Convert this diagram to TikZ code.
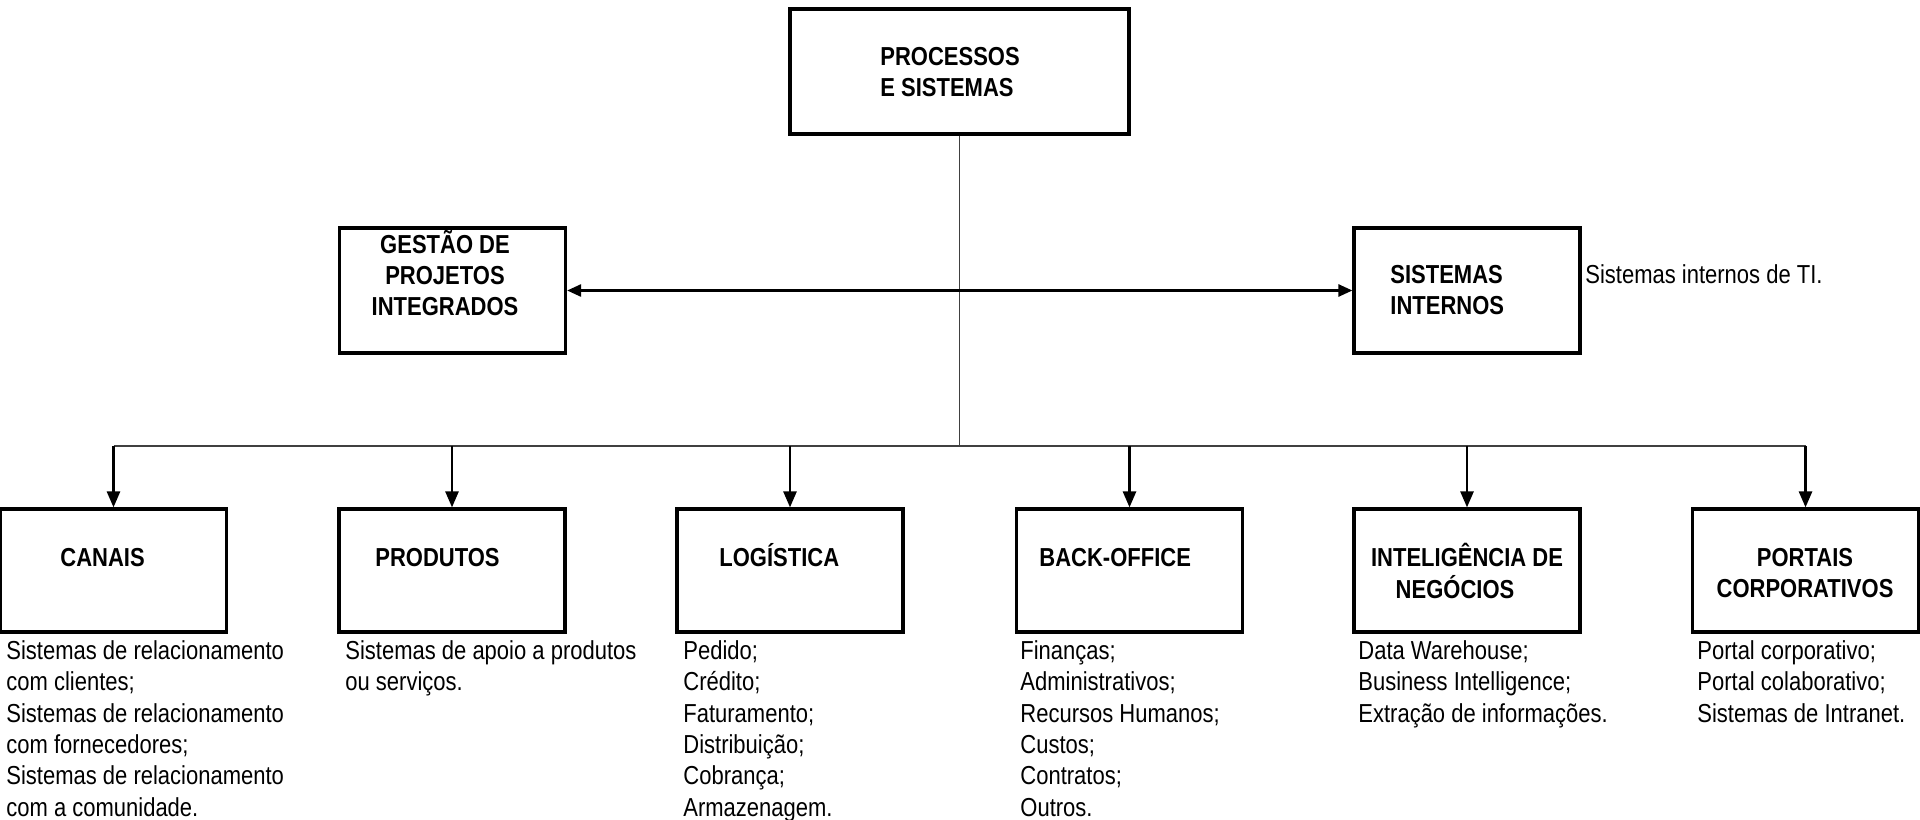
\documentclass[tikz,border=0pt]{standalone}
\usepackage{fontspec}
% narrow sans: Liberation Sans, horizontally condensed
\setmainfont{Liberation Sans}[FakeStretch=0.846]
\usetikzlibrary{arrows.meta}
% stacked lines whose baseline is the first line
\newcommand\leftlines[1]{\begin{tabular}[t]{@{}l@{}}#1\end{tabular}}
\newcommand\midlines[1]{\begin{tabular}[t]{@{}c@{}}#1\end{tabular}}

\begin{document}
\begin{tikzpicture}[x=0.5pt,y=-0.5pt,
  box/.style={draw,line width=1.6pt,rectangle,inner sep=0pt,
    minimum width=113pt,minimum height=61.5pt},
  head/.style={inner sep=0pt,font=\fontsize{13}{15.6}\selectfont\bfseries},
  desc/.style={inner sep=0pt,anchor=base west,font=\fontsize{13}{15.65}\selectfont},
  feed/.style={draw=black!75,line width=0.6pt},
  arr/.style={line width=1.3pt,-{Triangle[length=8pt,width=6.5pt]}},
  arrboth/.style={line width=1.3pt,
    {Triangle[length=7pt,width=6pt]}-{Triangle[length=7pt,width=6pt]}}
]
\useasboundingbox (0,0) rectangle (1920,819);

% root
\node[box,minimum width=169.5pt,minimum height=62.5pt] (top) at (959.5,71.5) {};
\node[head,anchor=base west] (topT) at (880,65) {\leftlines{PROCESSOS\\E SISTEMAS}};

% middle level
\node[box,minimum height=62.5pt] (gestao) at (452.5,290.5) {};
\node[head,anchor=base] (gestaoT) at (445,253.5)
  {\midlines{GESTÃO DE\\PROJETOS\\INTEGRADOS}};

\node[box,minimum height=62.5pt] (sist) at (1467,290.5) {};
\node[head,anchor=base west] (sistT) at (1390,283.5) {\leftlines{SISTEMAS\\INTERNOS}};
\node[desc] (sistD) at (1585,283.5) {Sistemas internos de TI.};

% bottom level
\node[box] (canais)   at (113.5,570.5) {};
\node[box] (produtos) at (452,570.5)   {};
\node[box] (logist)   at (790,570.5)   {};
\node[box] (back)     at (1129.5,570.5) {};
\node[box] (intel)    at (1467,570.5)  {};
\node[box] (portais)  at (1805.5,570.5) {};

\node[head,anchor=base west] (canaisT)   at (60,566)   {CANAIS};
\node[head,anchor=base west] (produtosT) at (375,566)  {PRODUTOS};
\node[head,anchor=base west] (logistT)   at (719,566)  {LOGÍSTICA};
\node[head,anchor=base west] (backT)     at (1039,566) {BACK-OFFICE};
\node[head,anchor=base] (intelT)   at (1467,566)
  {\midlines{INTELIGÊNCIA DE\\NEGÓCIOS\hspace*{12pt}}};
\node[head,anchor=base] (portaisT) at (1805,566)
  {\midlines{PORTAIS\\CORPORATIVOS}};

% descriptions under the boxes
\node[desc] (canaisD) at (6,659.5) {\leftlines{Sistemas de relacionamento\\com clientes;\\
  Sistemas de relacionamento\\com fornecedores;\\Sistemas de relacionamento\\com a comunidade.}};
\node[desc] (produtosD) at (345,659.5) {\leftlines{Sistemas de apoio a produtos\\ou serviços.}};
\node[desc] (logistD) at (683,659.5) {\leftlines{Pedido;\\Crédito;\\Faturamento;\\Distribuição;\\Cobrança;\\Armazenagem.}};
\node[desc] (backD) at (1020,659.5) {\leftlines{Finanças;\\Administrativos;\\Recursos Humanos;\\Custos;\\Contratos;\\Outros.}};
\node[desc] (intelD) at (1358,659.5) {\leftlines{Data Warehouse;\\Business Intelligence;\\Extração de informações.}};
\node[desc] (portaisD) at (1697,659.5) {\leftlines{Portal corporativo;\\Portal colaborativo;\\Sistemas de Intranet.}};

% connectors
\coordinate (bus) at (959.5,446);
\draw[feed] (top.south) -- (bus);
\draw[feed] (canais.north |- bus) -- (portais.north |- bus);
\draw[arrboth] (gestao.east) -- (sist.west);
\foreach \b in {canais,produtos,logist,back,intel,portais}
  \draw[arr] (\b.north |- bus) -- (\b.north);
\end{tikzpicture}
\end{document}
